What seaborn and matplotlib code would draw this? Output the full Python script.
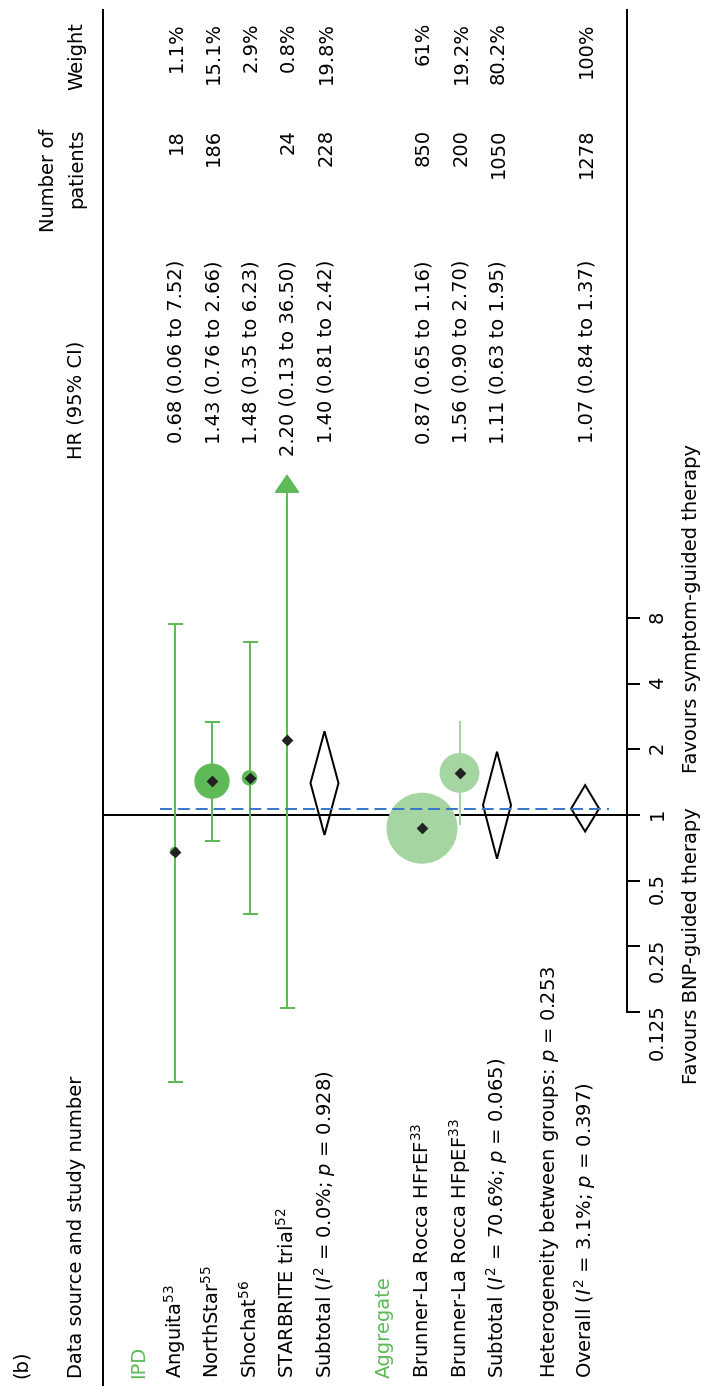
import numpy as np
import pandas as pd
import matplotlib
matplotlib.use("Agg")
import matplotlib.pyplot as plt
import seaborn as sns
from matplotlib.transforms import blended_transform_factory
from matplotlib.ticker import NullLocator

# ---------------- data ----------------
panel_label = "(b)"
col_headers = ["Data source and study number", "HR (95% CI)", "Number of", "patients", "Weight"]
group_names = ["IPD", "Aggregate"]

study_labels = ["Anguita$^{53}$", "NorthStar$^{55}$", "Shochat$^{56}$", "STARBRITE trial$^{52}$",
                "Brunner-La Rocca HFrEF$^{33}$", "Brunner-La Rocca HFpEF$^{33}$"]
study_group = ["IPD", "IPD", "IPD", "IPD", "Aggregate", "Aggregate"]
study_hr = [0.68, 1.43, 1.48, 2.20, 0.87, 1.56]
study_lo = [0.06, 0.76, 0.35, 0.13, 0.65, 0.90]
study_hi = [7.52, 2.66, 6.23, 36.50, 1.16, 2.70]
study_n = [18, 186, None, 24, 850, 200]
study_weight = [1.1, 15.1, 2.9, 0.8, 61, 19.2]

subtotal_labels = [r"Subtotal ($\mathit{I}^2$ = 0.0%; $\mathit{p}$ = 0.928)",
                   r"Subtotal ($\mathit{I}^2$ = 70.6%; $\mathit{p}$ = 0.065)"]
subtotal_hr = [1.40, 1.11]
subtotal_lo = [0.81, 0.63]
subtotal_hi = [2.42, 1.95]
subtotal_n = [228, 1050]
subtotal_weight = [19.8, 80.2]

het_label = r"Heterogeneity between groups: $\mathit{p}$ = 0.253"

overall_label = r"Overall ($\mathit{I}^2$ = 3.1%; $\mathit{p}$ = 0.397)"
overall_hr = 1.07
overall_lo = 0.84
overall_hi = 1.37
overall_n = 1278
overall_weight = 100

hr_ticks = [0.125, 0.25, 0.5, 1, 2, 4, 8]
hr_tick_labels = ["0.125", "0.25", "0.5", "1", "2", "4", "8"]
favours_left = "Favours BNP-guided therapy"
favours_right = "Favours symptom-guided therapy"

# ---------------- style ----------------
sns.set_theme(style="white")
plt.rcParams["font.family"] = ["DejaVu Sans"]
plt.rcParams["mathtext.fontset"] = "dejavusans"

GREEN = "#5dba57"
LIGHT_GREEN = "#a5d5a0"
BLUE = "#3b78c9"
FS = 14
LW = 1.1

W, H = 706, 1386
fig = plt.figure(figsize=(W / 100, H / 100), dpi=100)
fig.patch.set_facecolor("white")

# layout (pixel grid)
x_left, x_right = 103, 627
y_top, y_bot = 10, 1385
y_one, px_per_doubling = 815, 65.67
ax = fig.add_axes([x_left / W, (H - y_bot) / H, (x_right - x_left) / W, (y_bot - y_top) / H])
ax.set_facecolor("white")
ax.set_yscale("log", base=2)
ylim_lo = 2 ** (-(y_bot - y_one) / px_per_doubling)
ylim_hi = 2 ** ((y_one - y_top) / px_per_doubling)

# row slots
row0, step = 137, 37.5
slots = {"IPD": 0, "s0": 1, "s1": 2, "s2": 3, "s3": 4, "sub0": 5,
         "Aggregate": 6.55, "s4": 7.6, "s5": 8.6, "sub1": 9.6, "het": 10.95, "overall": 11.95}
def rowx(key):
    return row0 + step * slots[key]

study_pos = [rowx(f"s{i}") for i in range(len(study_labels))]
sub_pos = [rowx("sub0"), rowx("sub1")]
overall_pos = rowx("overall")

trans = blended_transform_factory(ax.transData, fig.transFigure)
def fy(p):
    return 1 - p / H

# null line
ax.axhline(1, color="black", lw=LW * 1.3, zorder=1)

# CIs
cap_s = (15 * 0.72) ** 2
max_tick = max(hr_ticks)
for p, g, lo, hi in zip(study_pos, study_group, study_lo, study_hi):
    col = GREEN if g == "IPD" else LIGHT_GREEN
    if hi > max_tick:
        ax.vlines(p, lo, hi * 0.75, colors=col, lw=LW * 1.3, zorder=2)
        ax.annotate("", xy=(p, hi), xytext=(p, lo),
                    arrowprops=dict(arrowstyle="-|>,head_length=0.55,head_width=0.38",
                                    color=col, lw=LW * 1.3, mutation_scale=21,
                                    shrinkA=0, shrinkB=0), zorder=2)
    else:
        ax.vlines(p, lo, hi, colors=col, lw=LW * 1.3, zorder=2)
    if g == "IPD":
        caps = [lo] if hi > max_tick else [lo, hi]
        ax.scatter([p] * len(caps), caps, marker="_", s=cap_s, color=col, linewidths=LW * 1.3, zorder=2)

# weight circles
df = pd.DataFrame({"pos": study_pos, "hr": study_hr, "weight": study_weight, "group": study_group})
sns.scatterplot(data=df, x="pos", y="hr", hue="group", palette={"IPD": GREEN, "Aggregate": LIGHT_GREEN},
                size="weight", sizes=(0, 2613), size_norm=(0, 61), legend=False, linewidth=0,
                alpha=1, ax=ax, zorder=3)
ax.scatter(study_pos, study_hr, marker="D", s=36, color="#222222", linewidths=0, zorder=6)

# pooled diamonds
half_w = 14
for p, hr, lo, hi in list(zip(sub_pos, subtotal_hr, subtotal_lo, subtotal_hi)) + [(overall_pos, overall_hr, overall_lo, overall_hi)]:
    ax.fill([p, p + half_w, p, p - half_w, p], [lo, hr, hi, hr, lo],
            facecolor="none", edgecolor="black", lw=LW * 1.3, zorder=4)

# overall dashed line
ax.hlines(overall_hr, study_pos[0] - 15, overall_pos + 24, colors=BLUE, lw=LW * 1.3,
          linestyles=(0, (6, 3)), zorder=5)

# axes cosmetics (after seaborn)
ax.set_xlim(x_left, x_right)
ax.set_ylim(ylim_lo, ylim_hi)
ax.set_xlabel("")
ax.set_ylabel("")
for s in ["top", "bottom"]:
    ax.spines[s].set_visible(False)
for s in ["left", "right"]:
    ax.spines[s].set_color("black")
    ax.spines[s].set_linewidth(LW * 1.3)
ax.spines["right"].set_bounds(min(hr_ticks), ylim_hi)
ax.set_xticks([])
ax.yaxis.tick_right()
ax.set_yticks(hr_ticks)
ax.set_yticklabels(hr_tick_labels)
ax.yaxis.set_minor_locator(NullLocator())
ax.tick_params(axis="y", which="major", direction="out", length=9, width=LW * 1.3, pad=6,
               labelsize=FS, labelrotation=90, colors="black", right=True, left=False)

# ---------------- texts ----------------
base_off = 7
y_label_start = 1378
y_hr_end, y_hr_head = 260, 459
y_n_end = 129
y_w_end = 22

def rtext(x, ypx, s, ha, color="black"):
    ax.text(x + base_off, fy(ypx), s, transform=trans, rotation=90, rotation_mode="anchor",
            ha=ha, va="baseline", fontsize=FS, color=color, clip_on=False)

head_x = 75
rtext(20, y_label_start, panel_label, "left")
rtext(head_x, y_label_start, col_headers[0], "left")
rtext(head_x, y_hr_head, col_headers[1], "left")
rtext(47, y_n_end, col_headers[2], "right")
rtext(head_x, y_n_end, col_headers[3], "right")
rtext(head_x, y_w_end, col_headers[4], "right")

rtext(rowx("IPD"), y_label_start, group_names[0], "left", GREEN)
rtext(rowx("Aggregate"), y_label_start, group_names[1], "left", GREEN)

def fmt_hr(hr, lo, hi):
    return f"{hr:.2f} ({lo:.2f} to {hi:.2f})"

for p, lab, hr, lo, hi, n, w in zip(study_pos, study_labels, study_hr, study_lo, study_hi, study_n, study_weight):
    rtext(p, y_label_start, lab, "left")
    rtext(p, y_hr_end, fmt_hr(hr, lo, hi), "right")
    if n is not None:
        rtext(p, y_n_end, f"{n}", "right")
    rtext(p, y_w_end, f"{w:g}%", "right")

for p, lab, hr, lo, hi, n, w in zip(sub_pos, subtotal_labels, subtotal_hr, subtotal_lo, subtotal_hi, subtotal_n, subtotal_weight):
    rtext(p, y_label_start, lab, "left")
    rtext(p, y_hr_end, fmt_hr(hr, lo, hi), "right")
    rtext(p, y_n_end, f"{n}", "right")
    rtext(p, y_w_end, f"{w:g}%", "right")

rtext(rowx("het"), y_label_start, het_label, "left")
rtext(overall_pos, y_label_start, overall_label, "left")
rtext(overall_pos, y_hr_end, fmt_hr(overall_hr, overall_lo, overall_hi), "right")
rtext(overall_pos, y_n_end, f"{overall_n}", "right")
rtext(overall_pos, y_w_end, f"{overall_weight:g}%", "right")

rtext(690, 807, favours_left, "right")
rtext(690, 773, favours_right, "left")

fig.savefig("out.png", dpi=100, facecolor="white")
